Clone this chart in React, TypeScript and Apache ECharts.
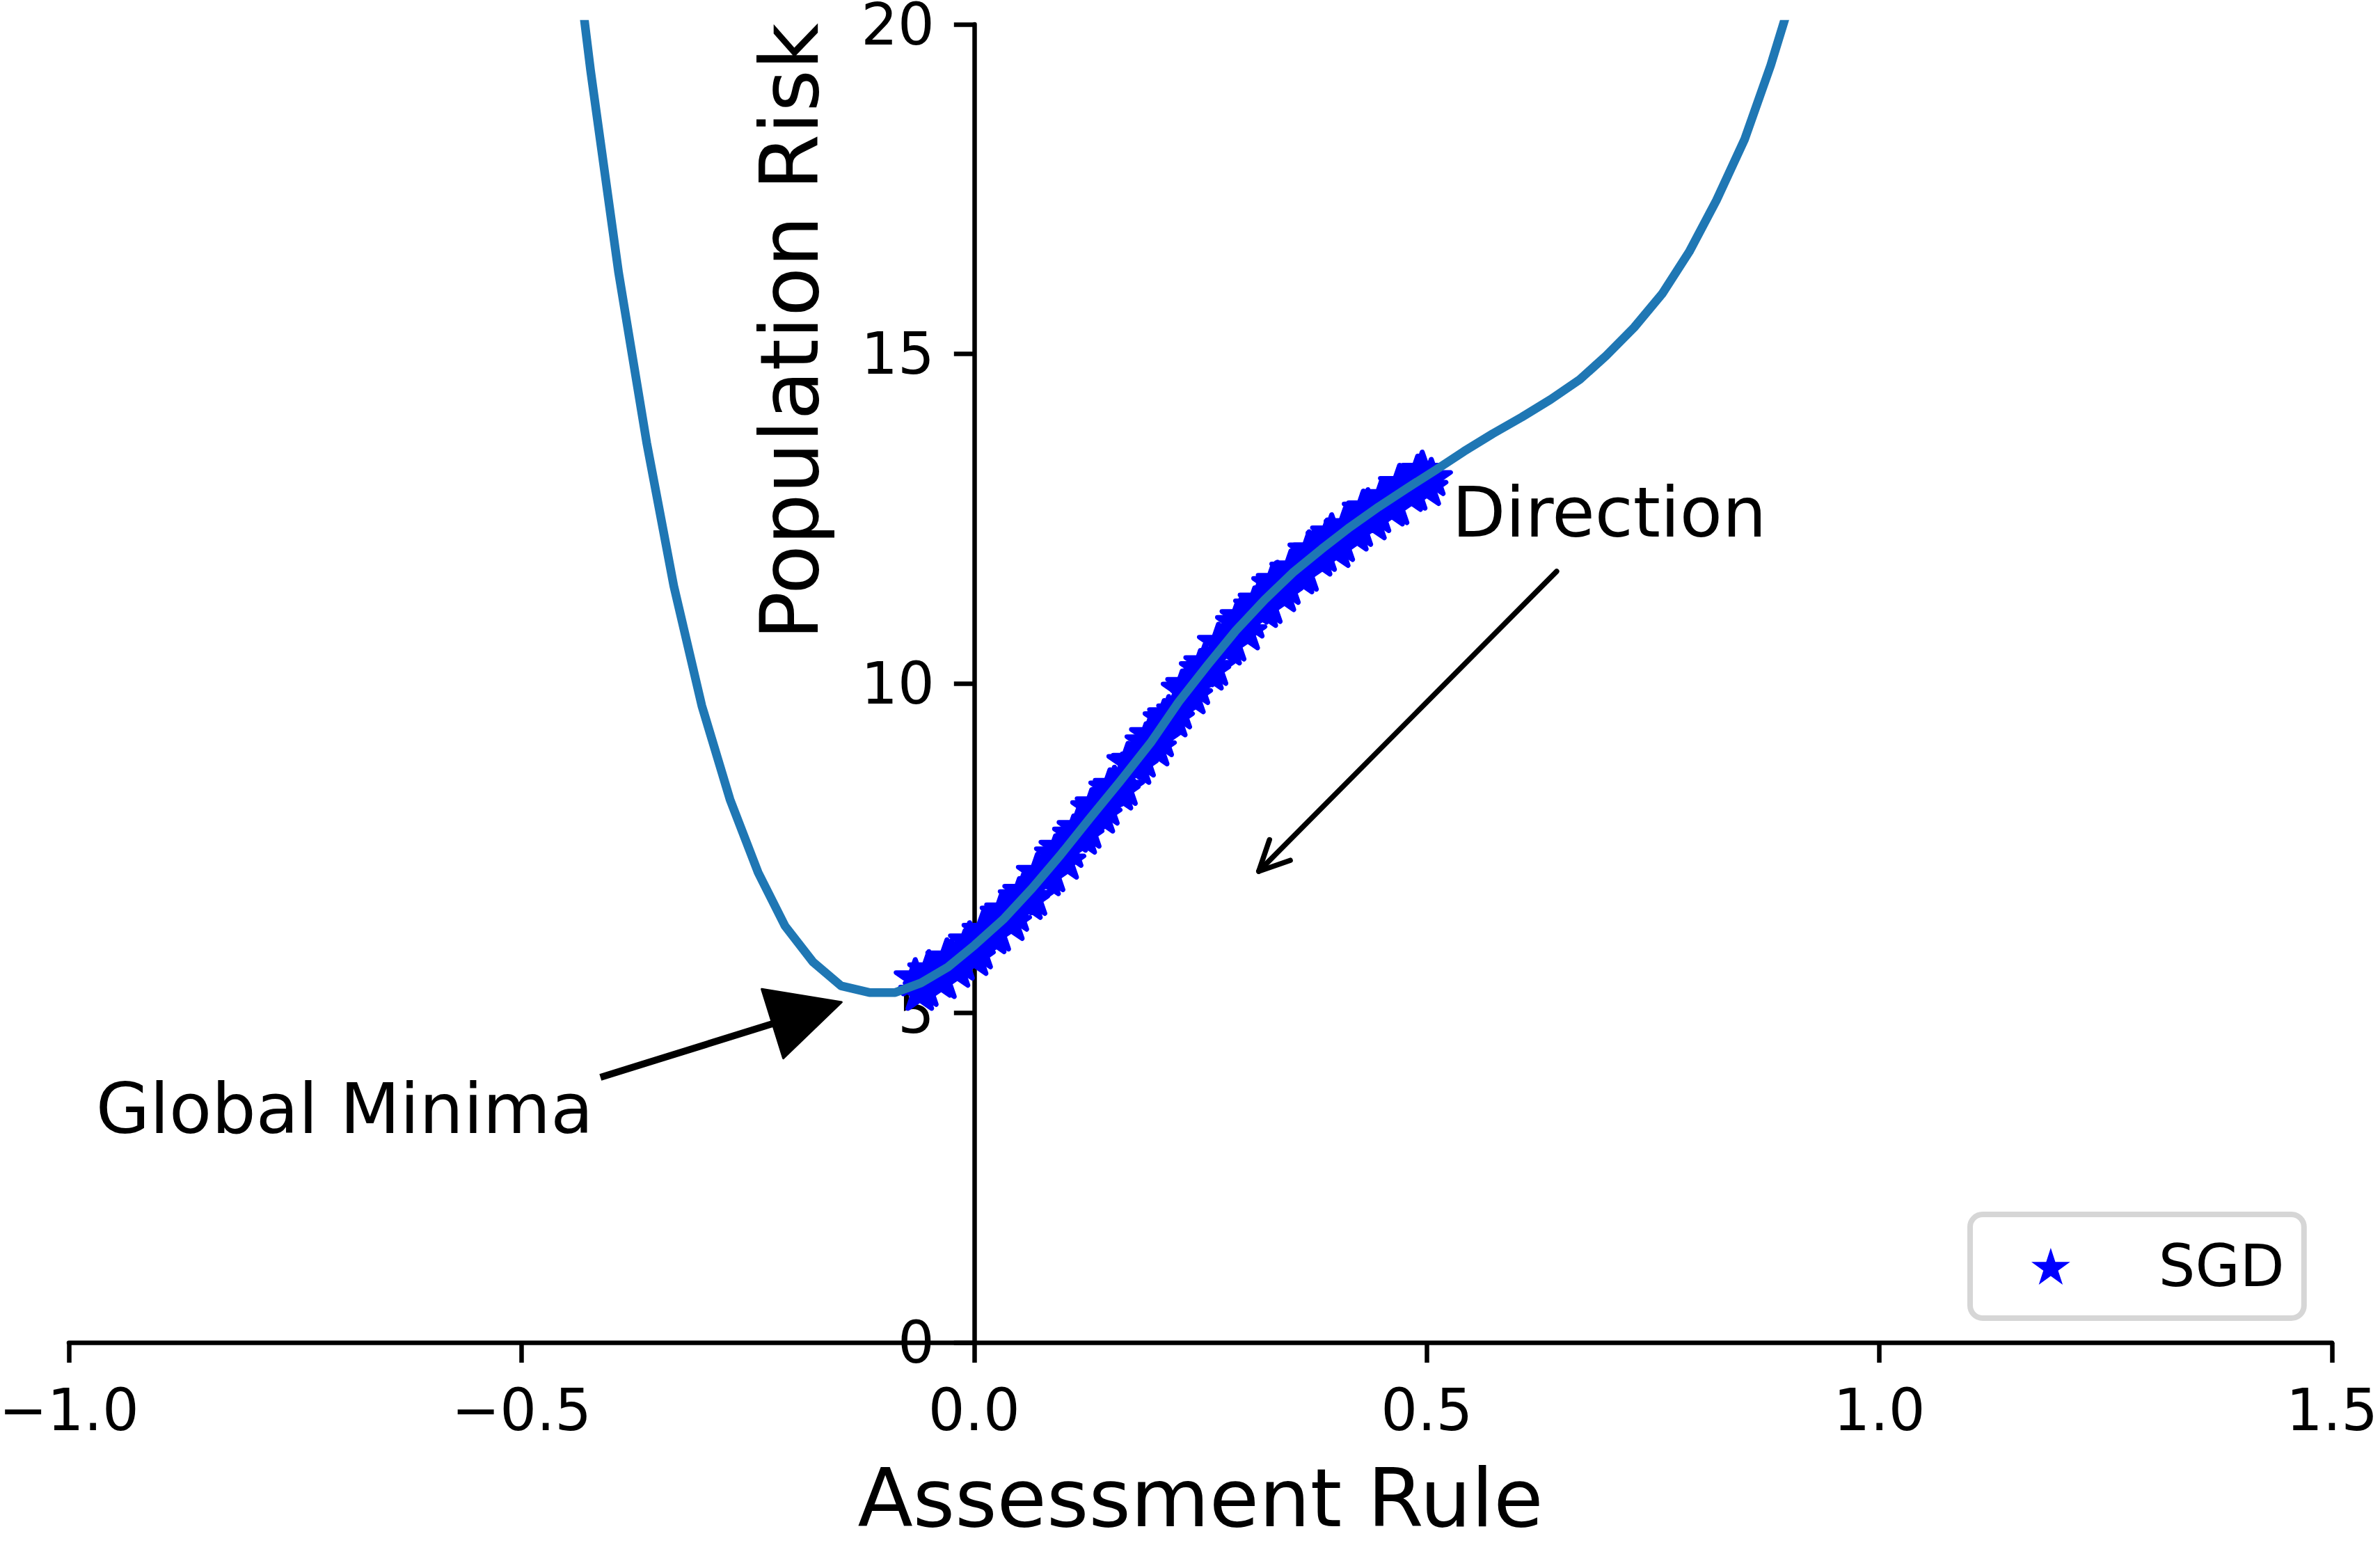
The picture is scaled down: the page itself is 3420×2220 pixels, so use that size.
import React, { useEffect, useRef } from "react";
import * as echarts from "echarts";

const FONT = "DejaVu Sans";

// Population risk curve
const curveX = [-0.455, -0.4237, -0.3927, -0.3617, -0.3318, -0.3008, -0.2697, -0.2386, -0.2089, -0.1778, -0.1468, -0.1157, -0.0872, -0.0587, -0.029, 0.0006, 0.033, 0.064, 0.095, 0.127, 0.161, 0.195, 0.226, 0.258, 0.289, 0.321, 0.352, 0.384, 0.415, 0.447, 0.478, 0.51, 0.541, 0.573, 0.605, 0.637, 0.669, 0.698, 0.729, 0.76, 0.79, 0.82, 0.851, 0.88, 0.911];
const curveY = [22.8, 19.3, 16.23, 13.65, 11.48, 9.66, 8.24, 7.13, 6.32, 5.77, 5.41, 5.31, 5.31, 5.455, 5.695, 6.03, 6.43, 6.89, 7.39, 7.94, 8.51, 9.1, 9.72, 10.28, 10.8, 11.27, 11.68, 12.04, 12.37, 12.68, 12.96, 13.24, 13.52, 13.79, 14.04, 14.31, 14.61, 14.97, 15.4, 15.91, 16.55, 17.33, 18.25, 19.38, 20.77];

// SGD iterates (read along the blue band), two interleaved passes
const sgdXA = [-0.065, -0.055, -0.045, -0.035, -0.025, -0.015, -0.005, 0.005, 0.015, 0.025, 0.035, 0.045, 0.055, 0.065, 0.075, 0.085, 0.095, 0.105, 0.115, 0.125, 0.135, 0.145, 0.155, 0.165, 0.175, 0.185, 0.195, 0.205, 0.215, 0.225, 0.235, 0.245, 0.255, 0.265, 0.275, 0.285, 0.295, 0.305, 0.315, 0.325, 0.335, 0.345, 0.355, 0.365, 0.375, 0.385, 0.395, 0.405, 0.415, 0.425, 0.435, 0.445, 0.455, 0.465, 0.475, 0.485, 0.495, 0.505];
const sgdYA = [5.55, 5.39, 5.63, 5.51, 5.84, 5.79, 6.11, 5.96, 6.25, 6.23, 6.58, 6.53, 6.86, 6.77, 7.13, 7.13, 7.53, 7.5, 7.83, 7.79, 8.19, 8.14, 8.47, 8.44, 8.85, 8.87, 9.24, 9.18, 9.54, 9.6, 10.0, 9.97, 10.33, 10.26, 10.63, 10.63, 11.03, 10.98, 11.28, 11.2, 11.58, 11.49, 11.77, 11.69, 12.04, 11.99, 12.3, 12.14, 12.41, 12.37, 12.68, 12.58, 12.85, 12.7, 12.99, 12.92, 13.25, 13.14];
const sgdXB = [-0.06, -0.05, -0.04, -0.03, -0.02, -0.01, 0.0, 0.01, 0.02, 0.03, 0.04, 0.05, 0.06, 0.07, 0.08, 0.09, 0.1, 0.11, 0.12, 0.13, 0.14, 0.15, 0.16, 0.17, 0.18, 0.19, 0.2, 0.21, 0.22, 0.23, 0.24, 0.25, 0.26, 0.27, 0.28, 0.29, 0.3, 0.31, 0.32, 0.33, 0.34, 0.35, 0.36, 0.37, 0.38, 0.39, 0.4, 0.41, 0.42, 0.43, 0.44, 0.45, 0.46, 0.47, 0.48, 0.49, 0.5];
const sgdYB = [5.33, 5.67, 5.53, 5.85, 5.68, 5.99, 5.86, 6.27, 6.19, 6.53, 6.39, 6.78, 6.71, 7.15, 7.07, 7.43, 7.32, 7.73, 7.7, 8.13, 8.02, 8.43, 8.37, 8.83, 8.76, 9.13, 9.04, 9.48, 9.48, 9.93, 9.83, 10.24, 10.19, 10.64, 10.57, 10.94, 10.8, 11.19, 11.14, 11.53, 11.38, 11.75, 11.65, 12.04, 11.92, 12.22, 12.05, 12.4, 12.3, 12.66, 12.47, 12.81, 12.68, 13.05, 12.9, 13.19, 12.99];

// Axes
const xTicks = [-1, -0.5, 0, 0.5, 1, 1.5];
const yTicks = [0, 5, 10, 15, 20];

// Annotations (data coordinates)
const minimaLabel = [-0.9702, 3.178];
const minimaTail = [-0.4128, 4.023];
const minimaTip = [-0.1464, 5.164];
const directionLabel = [0.528, 12.23];
const directionTail = [0.6435, 11.7];
const directionTip = [0.3144, 7.149];

const STAR =
  "path://M0,-100L-22.45,-30.9L-95.11,-30.9L-36.33,11.8L-58.78,80.9L0,38.2L58.78,80.9L36.33,11.8L95.11,-30.9L22.45,-30.9Z";

const GRID_LEFT = 99;

export default function App() {
  const ref = useRef<HTMLDivElement>(null);

  useEffect(() => {
    if (!ref.current) return;
    const chart = echarts.init(ref.current, undefined, { renderer: "svg" });
    const axisColor = "#000000";
    const xStep = xTicks[1] - xTicks[0];
    const yStep = yTicks[1] - yTicks[0];

    const sgdData: number[][] = [];
    sgdXA.forEach((x, i) => sgdData.push([x, sgdYA[i]]));
    sgdXB.forEach((x, i) => sgdData.push([x, sgdYB[i]]));
    sgdData.sort((a, b) => a[0] - b[0]);

    chart.setOption({
      animation: false,
      backgroundColor: "#ffffff",
      grid: {
        left: GRID_LEFT,
        right: 69,
        top: 35,
        bottom: 291,
        containLabel: false,
        outerBoundsMode: "none",
      },
      legend: {
        data: [{ name: "SGD", icon: STAR }],
        selectedMode: false,
        left: 2831,
        top: 1745,
        orient: "horizontal",
        itemWidth: 56,
        itemHeight: 53,
        padding: [33, 28, 33, 88],
        backgroundColor: "#ffffff",
        borderColor: "#d6d6d6",
        borderWidth: 8,
        borderRadius: 18,
        itemStyle: { color: "#0000ff", opacity: 1, borderWidth: 0 },
        formatter: "{t|{name}}",
        textStyle: {
          rich: {
            t: {
              fontSize: 83,
              fontFamily: FONT,
              color: "#000000",
              padding: [0, 0, 0, 122],
            },
          },
        },
      },
      xAxis: {
        type: "value",
        min: xTicks[0],
        max: xTicks[xTicks.length - 1],
        interval: xStep,
        position: "bottom",
        name: "Assessment Rule",
        nameLocation: "middle",
        nameGap: 165,
        nameTextStyle: { fontSize: 116, lineHeight: 116, fontFamily: FONT, color: "#000000" },
        axisLine: { onZero: true, lineStyle: { color: axisColor, width: 6.5 } },
        axisTick: { show: true, inside: false, length: 29, lineStyle: { color: axisColor, width: 6.5 } },
        axisLabel: {
          margin: 56,
          fontSize: 83,
          fontFamily: FONT,
          color: "#000000",
          formatter: (v: number) => (v < 0 ? "\u2212" : "") + Math.abs(v).toFixed(1),
        },
        splitLine: { show: false },
      },
      yAxis: {
        type: "value",
        min: yTicks[0],
        max: yTicks[yTicks.length - 1],
        interval: yStep,
        position: "left",
        offset: 0,
        axisLine: { onZero: false, lineStyle: { color: axisColor, width: 6.5 } },
        axisTick: { show: true, inside: false, length: 29, lineStyle: { color: axisColor, width: 6.5 } },
        axisLabel: {
          margin: 57,
          fontSize: 83,
          fontFamily: FONT,
          color: "#000000",
          formatter: (v: number) => String(v),
        },
        splitLine: { show: false },
      },
      series: [
        {
          type: "scatter",
          name: "SGD",
          data: sgdData,
          symbol: STAR,
          symbolSize: [55, 52],
          symbolKeepAspect: true,
          itemStyle: {
            color: "#0000ff",
            opacity: 1,
            borderColor: "#0000ff",
            borderWidth: 7,
            borderJoin: "round",
          },
          z: 2,
        },
        {
          type: "line",
          name: "Population Risk",
          data: curveX.map((x, i) => [x, curveY[i]]),
          showSymbol: false,
          symbol: "none",
          clip: true,
          lineStyle: { color: "#1f77b4", width: 12.5, join: "round", opacity: 1 },
          itemStyle: { color: "#1f77b4" },
          z: 3,
        },
      ],
    });

    const px = (p: number[]) => chart.convertToPixel({ gridIndex: 0 }, p) as number[];

    // Move the y axis (line, ticks and labels) onto x = 0
    const zero = px([0, 0]);
    const yOffset = -(zero[0] - GRID_LEFT);

    // Global minima arrow
    const mTail = px(minimaTail);
    const mTip = px(minimaTip);
    const dx = mTip[0] - mTail[0];
    const dy = mTip[1] - mTail[1];
    const len = Math.hypot(dx, dy);
    const ux = dx / len;
    const uy = dy / len;
    const headLen = 104;
    const headHalf = 52;
    const base = [mTip[0] - ux * headLen, mTip[1] - uy * headLen];
    const headPts = [
      [mTip[0], mTip[1]],
      [base[0] - uy * headHalf, base[1] + ux * headHalf],
      [base[0] + uy * headHalf, base[1] - ux * headHalf],
    ];

    // Direction arrow
    const dTail = px(directionTail);
    const dTip = px(directionTip);
    const ddx = dTail[0] - dTip[0];
    const ddy = dTail[1] - dTip[1];
    const dlen = Math.hypot(ddx, ddy);
    const bx = ddx / dlen;
    const by = ddy / dlen;
    const ang = (26 * Math.PI) / 180;
    const hl = 48;
    const rot = (a: number) => [bx * Math.cos(a) - by * Math.sin(a), bx * Math.sin(a) + by * Math.cos(a)];
    const r1 = rot(ang);
    const r2 = rot(-ang);

    const mLab = px(minimaLabel);
    const dLab = px(directionLabel);
    const top = px([0, yTicks[yTicks.length - 1]]);

    chart.setOption({
      yAxis: { offset: yOffset },
      graphic: [
        {
          type: "text",
          x: top[0] - 265,
          y: top[1] - 2,
          rotation: Math.PI / 2,
          style: {
            text: "Population Risk",
            fontSize: 116,
            fontFamily: FONT,
            fill: "#000000",
            align: "right",
            verticalAlign: "middle",
          },
        },
        {
          type: "text",
          x: mLab[0],
          y: mLab[1] - 0.346 * 100,
          style: {
            text: "Global Minima",
            fontSize: 100,
            fontFamily: FONT,
            fill: "#000000",
            align: "left",
            verticalAlign: "middle",
          },
        },
        {
          type: "line",
          shape: { x1: mTail[0], y1: mTail[1], x2: base[0], y2: base[1] },
          style: { stroke: "#000000", lineWidth: 10, lineCap: "butt" },
        },
        {
          type: "polygon",
          shape: { points: headPts },
          style: { fill: "#000000", stroke: "#000000", lineWidth: 3, lineJoin: "round" },
        },
        {
          type: "text",
          x: dLab[0],
          y: dLab[1] - 0.346 * 100,
          style: {
            text: "Direction",
            fontSize: 100,
            fontFamily: FONT,
            fill: "#000000",
            align: "left",
            verticalAlign: "middle",
          },
        },
        {
          type: "line",
          shape: { x1: dTail[0], y1: dTail[1], x2: dTip[0], y2: dTip[1] },
          style: { stroke: "#000000", lineWidth: 7.5, lineCap: "round" },
        },
        {
          type: "polyline",
          shape: {
            points: [
              [dTip[0] + r1[0] * hl, dTip[1] + r1[1] * hl],
              [dTip[0], dTip[1]],
              [dTip[0] + r2[0] * hl, dTip[1] + r2[1] * hl],
            ],
          },
          style: { stroke: "#000000", lineWidth: 7.5, lineCap: "round", lineJoin: "round", fill: "none" },
        },
      ],
    });

    return () => chart.dispose();
  }, []);

  return (
    <div
      ref={ref}
      style={{ position: "absolute", left: 0, top: 0, width: "3420px", height: "2220px", background: "#ffffff" }}
    />
  );
}
